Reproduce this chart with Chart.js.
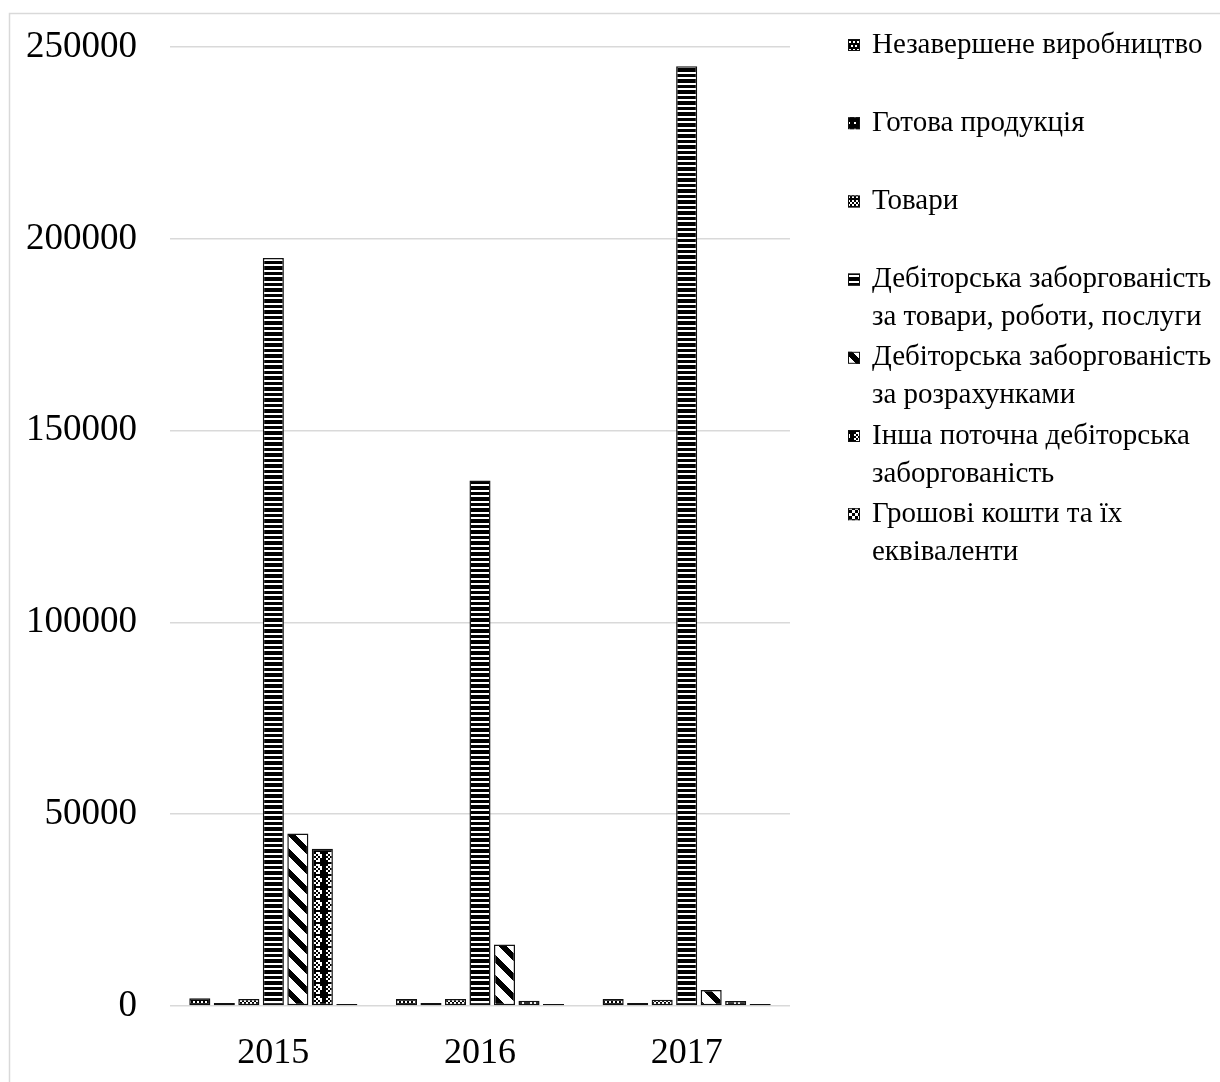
<!DOCTYPE html>
<html lang="uk">
<head>
<meta charset="utf-8">
<title>Оборотні активи, 2015–2017</title>
<script src="https://cdn.jsdelivr.net/npm/chart.js@4.4.1/dist/chart.umd.min.js"></script>
<style>
  html, body { margin: 0; padding: 0; background: #ffffff; }
  #wrap { position: relative; width: 1220px; height: 1082px; }
</style>
</head>
<body>
<div id="wrap"><canvas id="chart" width="1220" height="1082"></canvas></div>
<script>
// ---- Data ----
const years = ['2015', '2016', '2017'];

const wip                   = [2000, 1800, 1800];      // Незавершене виробництво
const finishedGoods         = [800, 800, 800];         // Готова продукція
const goods                 = [1800, 1800, 1600];      // Товари
const tradeReceivables      = [195000, 137000, 245000];// Дебіторська заборгованість за товари, роботи, послуги
const settlementReceivables = [45000, 16000, 4200];    // Дебіторська заборгованість за розрахунками
const otherReceivables      = [41000, 1400, 1300];     // Інша поточна дебіторська заборгованість
const cash                  = [500, 500, 500];         // Грошові кошти та їх еквіваленти

const legendLines = [
  ['Незавершене виробництво'],
  ['Готова продукція'],
  ['Товари'],
  ['Дебіторська заборгованість', 'за товари, роботи, послуги'],
  ['Дебіторська заборгованість', 'за розрахунками'],
  ['Інша поточна дебіторська', 'заборгованість'],
  ['Грошові кошти та їх', 'еквіваленти']
];

const yTicks = [0, 50000, 100000, 150000, 200000, 250000];

// ---- Monochrome fill patterns ----
function makePattern(size, paint) {
  const c = document.createElement('canvas');
  c.width = size; c.height = size;
  const g = c.getContext('2d');
  g.fillStyle = '#000';
  g.fillRect(0, 0, size, size);
  g.fillStyle = '#fff';
  paint(g, size);
  return document.getElementById('chart').getContext('2d').createPattern(c, 'repeat');
}

// small confetti: white blocks offset in rows
const patWip = makePattern(8, g => {
  g.fillRect(1, 1, 2, 2); g.fillRect(5, 1, 2, 2);
  g.fillRect(3, 5, 2, 2); g.fillRect(7, 5, 1, 2); g.fillRect(0, 5, 1, 2);
});
// dark with sparse white dots
const patFinished = makePattern(6, g => {
  g.fillRect(2, 2, 2, 2);
});
// checkerboard
const patGoods = makePattern(8, g => {
  g.fillRect(0, 0, 2, 2); g.fillRect(4, 0, 2, 2);
  g.fillRect(2, 2, 2, 2); g.fillRect(6, 2, 2, 2);
  g.fillRect(0, 4, 2, 2); g.fillRect(4, 4, 2, 2);
});
// horizontal stripes
const patTrade = makePattern(11, g => {
  g.fillRect(0, 0, 11, 2);
  g.fillRect(0, 6, 11, 2);
});
// wide downward diagonal
const patSettlement = (() => {
  const size = 20;
  const c = document.createElement('canvas');
  c.width = size; c.height = size;
  const g = c.getContext('2d');
  g.fillStyle = '#fff';
  g.fillRect(0, 0, size, size);
  g.fillStyle = '#000';
  for (let y = 0; y < size; y++) {
    for (let x = 0; x < size; x++) {
      if ((((y - x) % size) + size) % size < 8) g.fillRect(x, y, 1, 1);
    }
  }
  return document.getElementById('chart').getContext('2d').createPattern(c, 'repeat');
})();
// diamond-like clusters of white blocks
const patOther = makePattern(12, g => {
  g.fillRect(4, 0, 4, 2);
  g.fillRect(2, 2, 2, 2); g.fillRect(6, 2, 2, 2); g.fillRect(8, 2, 2, 2);
  g.fillRect(4, 4, 2, 2); g.fillRect(8, 4, 2, 2);
  g.fillRect(2, 6, 2, 2); g.fillRect(6, 6, 2, 2);
  g.fillRect(4, 8, 4, 2);
});
// large checker
const patCash = makePattern(6, g => {
  g.fillRect(0, 0, 3, 3); g.fillRect(3, 3, 3, 3);
});

const seriesValues = [wip, finishedGoods, goods, tradeReceivables, settlementReceivables, otherReceivables, cash];
const seriesFills  = [patWip, patFinished, patGoods, patTrade, patSettlement, patOther, patCash];

const datasets = seriesValues.map((vals, i) => ({
  label: legendLines[i].join(' '),
  data: vals,
  backgroundColor: seriesFills[i],
  borderColor: '#111111',
  borderWidth: 1.5,
  borderSkipped: false,
  categoryPercentage: 0.83,
  barPercentage: 0.86
}));

const SERIF = '"Liberation Serif", "Times New Roman", serif';

// ---- Chart frame and background ----
const framePlugin = {
  id: 'frame',
  beforeDraw(chart) {
    const ctx = chart.ctx;
    ctx.save();
    ctx.fillStyle = '#ffffff';
    ctx.fillRect(0, 0, chart.width, chart.height);
    ctx.strokeStyle = '#d9d9d9';
    ctx.lineWidth = 1.5;
    ctx.strokeRect(9.5, 13.5, chart.width + 40, chart.height + 40);
    ctx.restore();
  }
};

// ---- Legend on the right, evenly spaced entries ----
const sideLegend = {
  id: 'sideLegend',
  afterDraw(chart) {
    const ctx = chart.ctx;
    ctx.save();
    ctx.font = '29px ' + SERIF;
    ctx.textBaseline = 'middle';
    ctx.textAlign = 'left';
    const startY = 45, step = 78.2, lineH = 38;
    const boxX = 848, boxS = 12, textX = 872;
    chart.data.datasets.forEach((ds, i) => {
      const y = startY + i * step;
      ctx.fillStyle = ds.backgroundColor;
      ctx.fillRect(boxX, y - boxS / 2, boxS, boxS);
      ctx.strokeStyle = '#111';
      ctx.lineWidth = 1;
      ctx.strokeRect(boxX + 0.5, y - boxS / 2 + 0.5, boxS - 1, boxS - 1);
      ctx.fillStyle = '#000';
      legendLines[i].forEach((line, k) => {
        ctx.fillText(line, textX, y + k * lineH);
      });
    });
    ctx.restore();
  }
};

new Chart(document.getElementById('chart'), {
  type: 'bar',
  data: { labels: years, datasets },
  options: {
    responsive: false,
    animation: false,
    events: [],
    layout: { padding: { top: 47, right: 430, bottom: 0, left: 0 } },
    plugins: {
      legend: { display: false },
      tooltip: { enabled: false },
      title: { display: false }
    },
    scales: {
      x: {
        grid: { display: false, drawTicks: false },
        border: { display: false },
        ticks: { font: { family: SERIF, size: 36 }, color: '#000', padding: 26 },
        afterFit(scale) { scale.height = 76; }
      },
      y: {
        min: 0,
        max: 250000,
        afterBuildTicks(scale) { scale.ticks = yTicks.map(v => ({ value: v })); },
        grid: { color: '#d9d9d9', lineWidth: 1.5, drawTicks: false },
        border: { display: false },
        ticks: {
          font: { family: SERIF, size: 37 },
          color: '#000',
          padding: 33,
          callback: v => String(v)
        },
        afterFit(scale) {
          scale.width = 170;
          // the gap beside the labels is horizontal only; keep the vertical overhang to half a label
          scale.paddingTop = 22;
          scale.paddingBottom = 22;
        }
      }
    }
  },
  plugins: [framePlugin, sideLegend]
});
</script>
</body>
</html>
